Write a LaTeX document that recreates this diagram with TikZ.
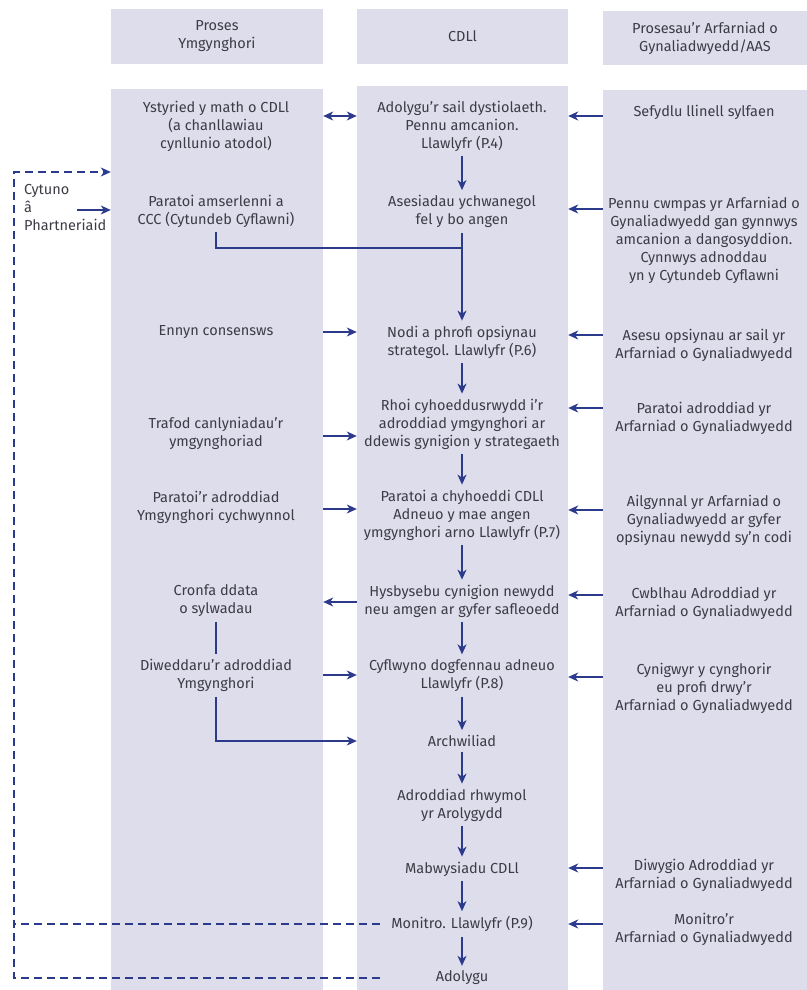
\documentclass[tikz,border=0pt]{standalone}
\usepackage{fontspec}
\setmainfont{Fira Sans}
\usetikzlibrary{arrows.meta}
\definecolor{lav}{HTML}{DDDDEC}
\definecolor{navy}{HTML}{2C3A8C}
\definecolor{txt}{HTML}{3C3C46}

\begin{document}
\begin{tikzpicture}[x=1pt, y=-1pt,
    >={Stealth[length=10pt,width=9pt,inset=3pt]},
    col/.style={fill=lav, inner sep=0pt, minimum width=#1},
    box/.style={align=center, text=txt, font=\fontsize{14.5}{18}\selectfont, inner xsep=3pt, inner ysep=5pt},
    arr/.style={navy, line width=1.2pt, ->},
    link/.style={navy, line width=1.2pt},
    retline/.style={navy, line width=1.2pt, dash pattern=on 8pt off 5pt}]
  \useasboundingbox (0,0) rectangle (806,990);

  \node[col=212pt, minimum height=55pt, box] (hL) at (217,36.5) {Proses\\Ymgynghori};
  \node[col=211pt, minimum height=55pt, box] (hM) at (462.5,36.5) {CDLl};
  \node[col=204pt, minimum height=54pt, box] (hR) at (705,38.5) {Prosesau’r Arfarniad o\\Gynaliadwyedd/AAS};
  \node[col=212pt, minimum height=901pt] (colL) at (217,539.5) {};
  \node[col=211pt, minimum height=904pt] (colM) at (462.5,538) {};
  \node[col=204pt, minimum height=900pt] (colR) at (705,540) {};

  \node[box] (sail) at (462,126) {Adolygu’r sail dystiolaeth.\\Pennu amcanion.\\Llawlyfr (P.4)};
  \node[box] (asesiadau) at (462,211.5) {Asesiadau ychwanegol\\fel y bo angen};
  \node[box] (nodi) at (462,342) {Nodi a phrofi opsiynau\\strategol. Llawlyfr (P.6)};
  \node[box] (rhoi) at (462,424) {Rhoi cyhoeddusrwydd i’r\\adroddiad ymgynghori ar\\ddewis gynigion y strategaeth};
  \node[box] (adneuo) at (462,515) {Paratoi a chyhoeddi CDLl\\Adneuo y mae angen\\ymgynghori arno Llawlyfr (P.7)};
  \node[box] (hysbysebu) at (462,601) {Hysbysebu cynigion newydd\\neu amgen ar gyfer safleoedd};
  \node[box] (cyflwyno) at (462,675.5) {Cyflwyno dogfennau adneuo\\Llawlyfr (P.8)};
  \node[box] (archwiliad) at (462,741) {Archwiliad};
  \node[box] (rhwymol) at (462,805) {Adroddiad rhwymol\\yr Arolygydd};
  \node[box] (mabwysiadu) at (462,869) {Mabwysiadu CDLl};
  \node[box] (monitro) at (462,924) {Monitro. Llawlyfr (P.9)};
  \node[box] (adolygu) at (462,978) {Adolygu};

  \node[box] (math) at (216,126) {Ystyried y math o CDLl\\(a chanllawiau\\cynllunio atodol)};
  \node[box] (amserlen) at (216,211) {Paratoi amserlenni a\\CCC (Cytundeb Cyflawni)};
  \node[box] (consensws) at (216,332) {Ennyn consensws};
  \node[box] (trafod) at (216,433) {Trafod canlyniadau’r\\ymgynghoriad};
  \node[box] (paratoiadr) at (216,507.5) {Paratoi’r adroddiad\\Ymgynghori cychwynnol};
  \node[box] (cronfa) at (216,600.5) {Cronfa ddata\\o sylwadau};
  \node[box] (diweddaru) at (216,675.5) {Diweddaru’r adroddiad\\Ymgynghori};
  \node[box, align=left, anchor=west] (cytuno) at (21,208) {Cytuno\\â\\Phartneriaid};

  \node[box] (sylfaen) at (704,112) {Sefydlu llinell sylfaen};
  \node[box] (cwmpas) at (704,240.5) {Pennu cwmpas yr Arfarniad o\\Gynaliadwyedd gan gynnwys\\amcanion a dangosyddion.\\Cynnwys adnoddau\\yn y Cytundeb Cyflawni};
  \node[box] (asesu) at (704,345) {Asesu opsiynau ar sail yr\\Arfarniad o Gynaliadwyedd};
  \node[box] (adroddiad) at (704,418) {Paratoi adroddiad yr\\Arfarniad o Gynaliadwyedd};
  \node[box] (ailgynnal) at (704,520) {Ailgynnal yr Arfarniad o\\Gynaliadwyedd ar gyfer\\opsiynau newydd sy’n codi};
  \node[box] (cwblhau) at (704,603) {Cwblhau Adroddiad yr\\Arfarniad o Gynaliadwyedd};
  \node[box] (cynigwyr) at (704,688) {Cynigwyr y cynghorir\\eu profi drwy’r\\Arfarniad o Gynaliadwyedd};
  \node[box] (diwygio) at (704,875) {Diwygio Adroddiad yr\\Arfarniad o Gynaliadwyedd};
  \node[box] (monitroaa) at (704,929) {Monitro’r\\Arfarniad o Gynaliadwyedd};

  \draw[arr] (sail) -- (asesiadau);
  \draw[arr] (asesiadau) -- (nodi);
  \draw[arr] (nodi) -- (rhoi);
  \draw[arr] (rhoi) -- (adneuo);
  \draw[arr] (adneuo) -- (hysbysebu);
  \draw[arr] (hysbysebu) -- (cyflwyno);
  \draw[arr] (cyflwyno) -- (archwiliad);
  \draw[arr] (archwiliad) -- (rhwymol);
  \draw[arr] (rhwymol) -- (mabwysiadu);
  \draw[arr] (mabwysiadu) -- (monitro);
  \draw[arr] (monitro) -- (adolygu);

  \draw[arr] ([yshift=-4pt]sylfaen -| colR.west) -- ([yshift=-4pt]sylfaen -| colM.east);
  \draw[arr] ([yshift=31.5pt]cwmpas -| colR.west) -- ([yshift=31.5pt]cwmpas -| colM.east);
  \draw[arr] ([yshift=10pt]asesu -| colR.west) -- ([yshift=10pt]asesu -| colM.east);
  \draw[arr] ([yshift=10pt]adroddiad -| colR.west) -- ([yshift=10pt]adroddiad -| colM.east);
  \draw[arr] ([yshift=10pt]ailgynnal -| colR.west) -- ([yshift=10pt]ailgynnal -| colM.east);
  \draw[arr] ([yshift=8pt]cwblhau -| colR.west) -- ([yshift=8pt]cwblhau -| colM.east);
  \draw[arr] ([yshift=11pt]cynigwyr -| colR.west) -- ([yshift=11pt]cynigwyr -| colM.east);
  \draw[arr] ([yshift=7pt]diwygio -| colR.west) -- ([yshift=7pt]diwygio -| colM.east);
  \draw[arr] ([yshift=5pt]monitroaa -| colR.west) -- ([yshift=5pt]monitroaa -| colM.east);

  \draw[arr, <->] ([yshift=10pt]math -| colL.east) -- ([yshift=10pt]math -| colM.west);
  \draw[arr] ([xshift=12pt,yshift=-2pt]cytuno.center) -- ([yshift=-2pt]cytuno -| colL.west);
  \draw[arr] (consensws -| colL.east) -- (consensws -| colM.west);
  \draw[arr] ([yshift=-3pt]trafod -| colL.east) -- ([yshift=-3pt]trafod -| colM.west);
  \draw[arr] ([yshift=-1.5pt]paratoiadr -| colL.east) -- ([yshift=-1.5pt]paratoiadr -| colM.west);
  \draw[arr] ([yshift=-1.5pt]cronfa -| colM.west) -- ([yshift=-1.5pt]cronfa -| colL.east);
  \draw[arr] ([yshift=0.5pt]diweddaru -| colL.east) -- ([yshift=0.5pt]diweddaru -| colM.west);
  \draw[link] (cronfa) -- (diweddaru);
  \draw[arr] (diweddaru.south) |- (archwiliad -| colM.west);
  \draw[link] (amserlen.south) |- ([yshift=-15pt]asesiadau.south);

  \coordinate (ret) at (14,172);
  \draw[retline, ->] ([xshift=-8pt]adolygu -| monitro.west) -| (ret) -- (ret -| colL.west);
  \draw[retline] ([xshift=-8pt]monitro.west) -- (monitro -| ret);
\end{tikzpicture}
\end{document}
